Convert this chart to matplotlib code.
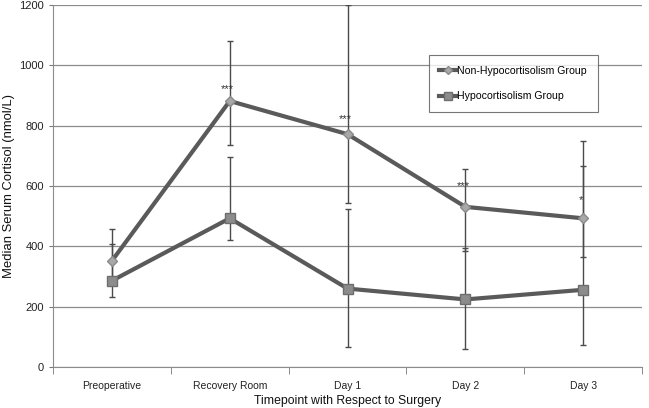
import matplotlib.pyplot as plt
import numpy as np

plt.rcParams['font.family'] = ['Liberation Sans', 'DejaVu Sans']

timepoints = ["Preoperative", "Recovery Room", "Day 1", "Day 2", "Day 3"]

non_hypo = [352, 882, 772, 531, 493]
non_hypo_low = [300, 735, 545, 386, 364]
non_hypo_high = [456, 1080, 1200, 656, 749]

hypo = [286, 493, 260, 224, 256]
hypo_low = [233, 420, 66, 59, 72]
hypo_high = [408, 695, 523, 396, 667]

star_idx = [1, 2, 3, 4]
star_text = ["***", "***", "***", "*"]
star_y = [922, 822, 600, 555]

line_col = "#5a5a5a"
err_col = "#4a4a4a"

x = np.arange(len(timepoints))

fig = plt.figure(figsize=(6.49, 4.08), dpi=100)
ax = fig.add_axes([0.0817, 0.1005, 0.9076, 0.887])

ax.set_ylim(0, 1200)
ax.set_xlim(-0.5, 4.5)
ax.set_yticks(np.arange(0, 1201, 200))
ax.yaxis.grid(True, color="#8c8c8c", linewidth=0.9)
ax.set_axisbelow(True)

nh = np.array(non_hypo)
hy = np.array(hypo)
ax.errorbar(x, nh, yerr=[nh - np.array(non_hypo_low), np.array(non_hypo_high) - nh],
            fmt="none", ecolor=err_col, elinewidth=1.0, capsize=2.5, capthick=1.0, zorder=2)
ax.errorbar(x, hy, yerr=[hy - np.array(hypo_low), np.array(hypo_high) - hy],
            fmt="none", ecolor=err_col, elinewidth=1.0, capsize=2.5, capthick=1.0, zorder=2)

ax.plot(x, non_hypo, color=line_col, linewidth=3, marker="D", markersize=5,
        markerfacecolor="#a8a8a8", markeredgecolor="#8a8a8a", label="Non-Hypocortisolism Group", zorder=3)
ax.plot(x, hypo, color=line_col, linewidth=3, marker="s", markersize=7,
        markerfacecolor="#8c8c8c", markeredgecolor="#6e6e6e", label="Hypocortisolism Group", zorder=3)

# significance stars
for i, t, yy in zip(star_idx, star_text, star_y):
    ax.text(x[i] - 0.02, yy, t, ha="center", va="center", fontsize=8, color="#333333")

ax.set_xticks(x)
ax.set_xticklabels(timepoints, fontsize=7.5, color="#222222")
ax.set_xticks(np.arange(-0.5, 4.6, 1.0), minor=True)
ax.tick_params(axis="x", which="major", length=0, pad=10)
ax.tick_params(axis="x", which="minor", length=5, color="#777777", direction="out")
ax.tick_params(axis="y", length=3, color="#777777", labelsize=8, labelcolor="#222222")

for s in ["top", "right"]:
    ax.spines[s].set_visible(False)
ax.spines["left"].set_color("#8c8c8c")
ax.spines["bottom"].set_color("#8c8c8c")

ax.set_xlabel("Timepoint with Respect to Surgery", fontsize=8.8, color="#111111", labelpad=3)
ax.set_ylabel("Median Serum Cortisol (nmol/L)", fontsize=9.4, color="#111111", labelpad=3)

leg = ax.legend(loc="upper left", bbox_to_anchor=(0.638, 0.862), fontsize=7.6, frameon=True,
                fancybox=False, edgecolor="#555555", handlelength=1.6, handletextpad=0.1,
                borderpad=1.0, labelspacing=1.5, borderaxespad=0, markerscale=0.8)
leg.get_frame().set_linewidth(0.8)

fig.savefig("out.png", dpi=100)
